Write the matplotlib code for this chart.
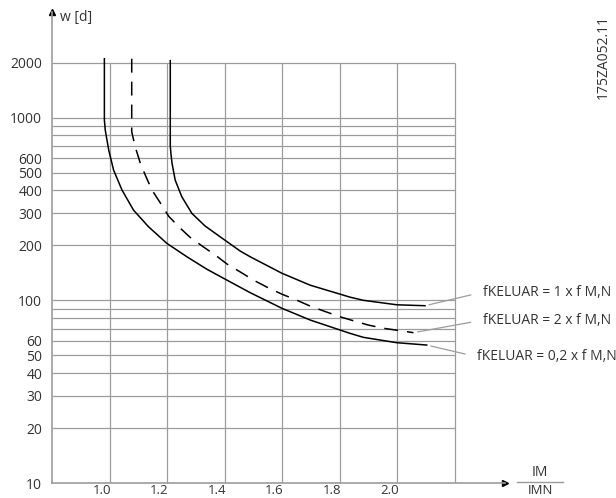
import matplotlib
matplotlib.use("Agg")
import matplotlib.pyplot as plt
from matplotlib.lines import Line2D
from matplotlib.transforms import ScaledTranslation

plt.rcParams["font.family"] = ["Open Sans", "DejaVu Sans"]
plt.rcParams["lines.scale_dashes"] = False

# curve for f = 0,2 x f M,N (lowest solid)
low_x = [0.982, 0.982, 0.985, 0.997, 1.014, 1.043, 1.083, 1.135, 1.199, 1.269,
         1.338, 1.396, 1.489, 1.599, 1.697, 1.836, 1.882, 1.998, 2.102]
low_y = [2100, 970, 855, 665, 516, 402, 312, 253, 205, 173,
         148, 132, 110, 90.4, 78, 65.9, 62.7, 58.6, 56.9]

# curve for f = 2 x f M,N (dashed)
mid_x = [1.077, 1.077, 1.089, 1.107, 1.124, 1.147, 1.176, 1.205, 1.240, 1.280,
         1.326, 1.367, 1.408, 1.454, 1.500, 1.547, 1.599, 1.645, 1.697, 1.744,
         1.796, 1.847, 1.899, 1.952, 2.056]
mid_y = [2100, 837, 693, 562, 485, 402, 342, 289, 253, 221,
         196, 177, 158, 143, 129, 118, 108, 101, 93, 87.4,
         81.7, 77.3, 73.2, 70.3, 66.5]

# curve for f = 1 x f M,N (upper solid)
up_x = [1.211, 1.211, 1.213, 1.217, 1.228, 1.251, 1.286, 1.332, 1.396, 1.454,
        1.489, 1.599, 1.697, 1.836, 1.882, 1.998, 2.096]
up_y = [2050, 700, 640, 563, 455, 369, 299, 255, 216, 186,
        173, 140.6, 121, 104, 100, 94.5, 93.4]

x_grid = [1.0, 1.2, 1.4, 1.6, 1.8, 2.0, 2.2]
x_labels = ["1.0", "1.2", "1.4", "1.6", "1.8", "2.0"]
y_grid = [20, 30, 40, 50, 60, 70, 80, 90, 100, 200, 300, 400, 500,
          600, 700, 800, 900, 1000, 2000]
y_ticks = [10, 20, 30, 40, 50, 60, 100, 200, 300, 400, 500, 600, 1000, 2000]

labels = ["fKELUAR = 1 x f M,N", "fKELUAR = 2 x f M,N", "fKELUAR = 0,2 x f M,N"]
label_pos = [(2.298, 111), (2.298, 78), (2.278, 49)]

grid_c = "#9c9c9c"
text_c = "#333333"

fig = plt.figure(figsize=(6.16, 4.98), dpi=100)
ax = fig.add_axes([52 / 616, 15 / 498, (505 - 52) / 616, (483 - 12) / 498])
ax.set_yscale("log")
ax.set_xlim(0.8, 2.374)
ax.set_ylim(10, 3785)

ax.hlines(y_grid, 0.8, 2.2, color=grid_c, lw=0.9, zorder=1)
ax.vlines(x_grid, 10, 2000, color=grid_c, lw=0.9, zorder=1)

ax.plot(low_x, low_y, color="black", lw=1.1, zorder=3)
ax.plot(mid_x, mid_y, color="black", lw=1.1, dashes=(10, 6.5), zorder=3)
ax.plot(up_x, up_y, color="black", lw=1.1, zorder=3)

for sp in ["top", "right"]:
    ax.spines[sp].set_visible(False)
for sp in ["left", "bottom"]:
    ax.spines[sp].set_color(grid_c)
    ax.spines[sp].set_linewidth(1.2)

ax.plot([1], [0], marker=">", color="black", ms=5, transform=ax.transAxes, clip_on=False)
ax.plot([0], [1], marker="^", color="black", ms=5, transform=ax.transAxes, clip_on=False)

ax.set_yticks(y_ticks)
ax.set_yticklabels([str(v) for v in y_ticks])
ax.yaxis.set_minor_locator(plt.NullLocator())
ax.set_xticks(x_grid[:-1])
ax.set_xticklabels(x_labels)
ax.tick_params(axis="both", length=0, labelsize=10, colors=text_c)
ax.tick_params(axis="y", pad=7)
ax.tick_params(axis="x", pad=0.5, labelsize=9.5)
shift = ScaledTranslation(-8 / 100, 0, fig.dpi_scale_trans)
for lab in ax.get_xticklabels():
    lab.set_transform(lab.get_transform() + shift)

ends = [(up_x[-1], up_y[-1]), (mid_x[-1], mid_y[-1]), (low_x[-1], low_y[-1])]
for text, pos, end in zip(labels, label_pos, ends):
    ax.annotate(text, xy=end, xytext=pos, fontsize=10, color=text_c,
                va="center", ha="left",
                arrowprops=dict(arrowstyle="-", color=grid_c, lw=0.9,
                                shrinkA=7, shrinkB=3, relpos=(0, 0.5)))

fig.text(60 / 616, 1 - 17 / 498, "w [d]", fontsize=10, color=text_c, va="center", ha="left")
fig.text(603 / 616, 1 - 57 / 498, "175ZA052.11", fontsize=10, color=text_c,
         rotation=90, va="center", ha="center")
fig.text(540 / 616, 1 - 472 / 498, "IM", fontsize=10, color=text_c, va="center", ha="center")
fig.text(540 / 616, 1 / 498, "IMN", fontsize=9.5, color=text_c, va="bottom", ha="center")
fig.add_artist(Line2D([517 / 616, 563 / 616], [1 - 482 / 498] * 2, color=grid_c, lw=1))

fig.savefig("out.png", dpi=100)
